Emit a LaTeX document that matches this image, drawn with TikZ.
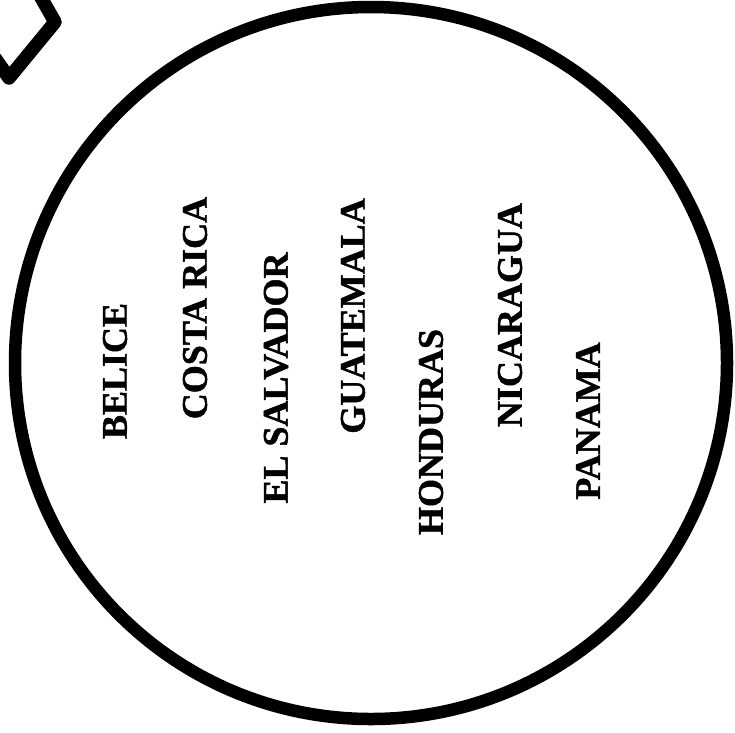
\documentclass[tikz,border=0pt]{standalone}
\usepackage{fontspec}
\setmainfont{Liberation Serif}[BoldFeatures={FakeBold=1.2}]
\begin{document}
\begin{tikzpicture}[x=1pt,y=-1pt,
  country/.style={rotate=90,inner sep=0pt,font=\fontsize{36}{36}\selectfont\bfseries},
  thick ring/.style={line width=12.5pt},
  chevron/.style={line width=13.5pt,line join=round}]
\useasboundingbox (0,0) rectangle (735,732);
\draw[thick ring] (371,363) circle[radius=356pt];
\coordinate (c1) at (-5,58);
\coordinate (c2) at (9,78);
\coordinate (c3) at (55,22);
\coordinate (c4) at (39,-6);
\draw[chevron] (c1) -- (c2) -- (c3) -- (c4);
\node[country] (belice) at (115,371) {BELICE};
\node[country] (costarica) at (195,308) {COSTA RICA};
\node[country] (elsalvador) at (276,378) {EL SALVADOR};
\node[country] (guatemala) at (353,316) {GUATEMALA};
\node[country] (honduras) at (431,432) {HONDURAS};
\node[country] (nicaragua) at (510,315) {NICARAGUA};
\node[country] (panama) at (588,421) {PANAMA};
\end{tikzpicture}
\end{document}
